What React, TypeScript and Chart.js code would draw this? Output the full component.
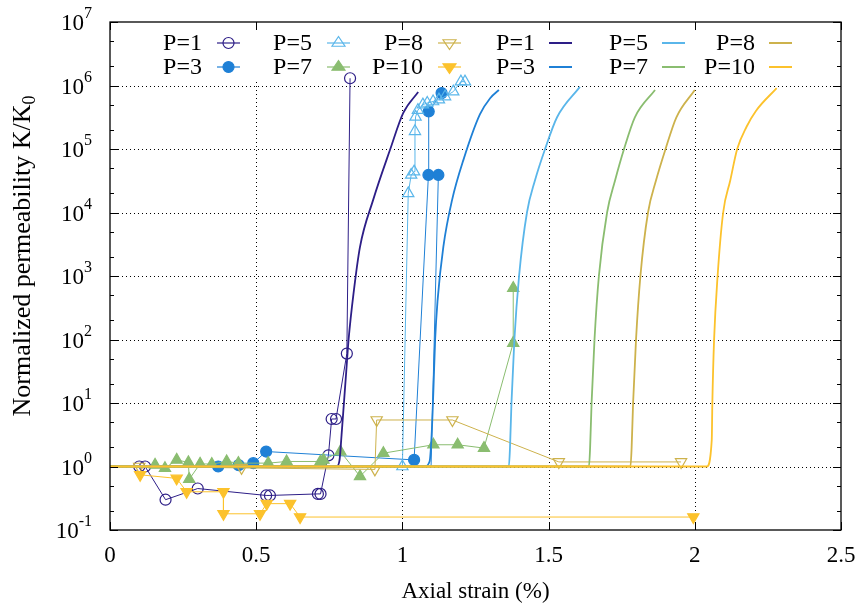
import React, { useEffect, useRef } from "react";
import { Chart, registerables } from "chart.js";

Chart.register(...registerables);

// ---- data (markers = measurements) ----
const P1_X = [0.10, 0.12, 0.19, 0.30, 0.534, 0.547, 0.711, 0.72, 0.747, 0.758, 0.773, 0.81, 0.821];
const P1_Y = [1.0, 1.0, 0.30, 0.45, 0.35, 0.35, 0.37, 0.37, 1.5, 5.6, 5.6, 60, 1.3e6];

// null = break in the measured line; P3_NOMARK = indices drawn without a marker
const P3_X = [0.37, 0.44, 0.49, 0.534, 1.04, 1.089, 1.09, 1.134, 1.12, 1.098, 1.123];
const P3_Y: (number | null)[] = [1.0, 1.05, 1.13, 1.72, 1.27, 3.9e4, 3.9e5, 7.6e5, null, 1.0, 3.9e4];
const P3_NOMARK = [9];

const P5_X = [1.0, 1.02, 1.03, 1.04, 1.043, 1.045, 1.053, 1.07, 1.085, 1.105, 1.125, 1.146, 1.174, 1.2, 1.214];
const P5_Y = [1.0, 2.0e4, 3.9e4, 4.4e4, 1.9e5, 3.2e5, 4.1e5, 5.0e5, 5.3e5, 5.6e5, 6.0e5, 6.7e5, 8.0e5, 1.15e6, 1.15e6];

const P7_X = [0.154, 0.188, 0.228, 0.268, 0.271, 0.308, 0.348, 0.399, 0.439, 0.541, 0.604, 0.72, 0.73, 0.788, 0.855, 0.935, 1.106, 1.189, 1.279, 1.379, 1.379];
const P7_Y = [1.06, 0.94, 1.27, 1.16, 0.63, 1.1, 1.09, 1.2, 1.13, 1.13, 1.2, 1.2, 1.27, 1.72, 0.7, 1.62, 2.2, 2.2, 1.95, 88, 645];

const P8_X = [0.10, 0.45, 0.906, 0.912, 1.171, 1.535, 1.953];
const P8_Y = [1.0, 0.95, 0.9, 5.4, 5.4, 1.18, 1.18];

const P10_X = [0.103, 0.228, 0.262, 0.388, 0.388, 0.513, 0.536, 0.616, 0.65, 1.995];
const P10_Y = [0.74, 0.65, 0.40, 0.40, 0.18, 0.18, 0.26, 0.26, 0.16, 0.16];

// ---- model curves ----
const M1_X = [0, 0.775, 0.785, 0.792, 0.8, 0.808, 0.816, 0.833, 0.855, 0.9, 0.958, 1.003, 1.054];
const M1_Y = [1, 1, 1.26, 3.16, 10, 31.6, 100, 537, 2880, 1.58e4, 9.8e4, 3.7e5, 7.9e5];

const M3_X = [0, 1.075, 1.093, 1.1, 1.106, 1.112, 1.12, 1.14, 1.17, 1.209, 1.265, 1.3, 1.33];
const M3_Y = [1, 1, 1.2, 3.16, 15.8, 100, 398, 2880, 1.58e4, 6.8e4, 3.5e5, 6.3e5, 8.5e5];

const M5_X = [0, 1.364, 1.368, 1.373, 1.383, 1.399, 1.426, 1.453, 1.488, 1.529, 1.607];
const M5_Y = [1, 1, 2, 10, 100, 1000, 1e4, 3.16e4, 1e5, 3.16e5, 9.5e5];

const M7_X = [0, 1.638, 1.642, 1.647, 1.657, 1.672, 1.7, 1.727, 1.758, 1.795, 1.864];
const M7_Y = [1, 1, 2, 10, 100, 1000, 1e4, 3.16e4, 1e5, 3.16e5, 8.5e5];

const M8_X = [0, 1.78, 1.784, 1.789, 1.799, 1.814, 1.84, 1.867, 1.9, 1.937, 2.0];
const M8_Y = [1, 1, 2, 10, 100, 1000, 1e4, 3.16e4, 1e5, 3.16e5, 8.5e5];

const M10_X = [0, 2.041, 2.058, 2.06, 2.066, 2.078, 2.097, 2.121, 2.145, 2.177, 2.209, 2.28];
const M10_Y = [1, 1, 2.63, 10, 100, 1000, 1e4, 3.16e4, 1e5, 2.24e5, 3.98e5, 9.1e5];

const X_TICKS = [0, 0.5, 1, 1.5, 2, 2.5];
const X_TICK_LABELS = ["0", "0.5", "1", "1.5", "2", "2.5"];
const Y_EXPONENTS = [-1, 0, 1, 2, 3, 4, 5, 6, 7];
const X_TITLE = "Axial strain (%)";
const Y_TITLE = "Normalized permeability K/K";
const Y_TITLE_SUB = "0";

const C1 = "#2d1e87";
const C3 = "#1f80d6";
const C5 = "#5ab6ea";
const C7 = "#8abd70";
const C8 = "#cdb24c";
const C10 = "#fcc22c";

const FONT = '"Liberation Serif", "DejaVu Serif", serif';

type Mk = { label: string; xs: number[]; ys: (number | null)[]; color: string; style: string; filled: boolean; rot: number; nomark?: number[] };
const MARKERS: Mk[] = [
  { label: "P=1", xs: P1_X, ys: P1_Y, color: C1, style: "circle", filled: false, rot: 0 },
  { label: "P=3", xs: P3_X, ys: P3_Y, color: C3, style: "circle", filled: true, rot: 0, nomark: P3_NOMARK },
  { label: "P=5", xs: P5_X, ys: P5_Y, color: C5, style: "triangle", filled: false, rot: 0 },
  { label: "P=7", xs: P7_X, ys: P7_Y, color: C7, style: "triangle", filled: true, rot: 0 },
  { label: "P=8", xs: P8_X, ys: P8_Y, color: C8, style: "triangle", filled: false, rot: 180 },
  { label: "P=10", xs: P10_X, ys: P10_Y, color: C10, style: "triangle", filled: true, rot: 180 },
];
const MODELS = [
  { label: "P=1", xs: M1_X, ys: M1_Y, color: C1 },
  { label: "P=3", xs: M3_X, ys: M3_Y, color: C3 },
  { label: "P=5", xs: M5_X, ys: M5_Y, color: C5 },
  { label: "P=7", xs: M7_X, ys: M7_Y, color: C7 },
  { label: "P=8", xs: M8_X, ys: M8_Y, color: C8 },
  { label: "P=10", xs: M10_X, ys: M10_Y, color: C10 },
];

function drawMarker(ctx: CanvasRenderingContext2D, m: Mk, cx: number, cy: number) {
  ctx.save();
  ctx.strokeStyle = m.color;
  ctx.fillStyle = m.color;
  ctx.lineWidth = 1.2;
  const r = m.style === "circle" ? 5.5 : 6.5;
  ctx.beginPath();
  if (m.style === "circle") {
    ctx.arc(cx, cy, r, 0, Math.PI * 2);
  } else {
    const s = m.rot ? -1 : 1;
    const h = r * 1.5;
    ctx.moveTo(cx, cy - s * (h * 2) / 3);
    ctx.lineTo(cx + r, cy + s * h / 3);
    ctx.lineTo(cx - r, cy + s * h / 3);
    ctx.closePath();
  }
  if (m.filled) ctx.fill();
  ctx.stroke();
  ctx.restore();
}

const framePlugin = {
  id: "frame",
  beforeDatasetsDraw(chart: any) {
    const { ctx, chartArea, scales } = chart;
    const { left, right, top, bottom } = chartArea;
    const x = scales.x, y = scales.y;
    ctx.save();
    ctx.strokeStyle = "#000";
    ctx.lineWidth = 1;
    ctx.setLineDash([1, 3]);
    for (const v of X_TICKS) {
      if (v <= 0 || v >= 2.5) continue;
      const px = Math.round(x.getPixelForValue(v)) + 0.5;
      ctx.beginPath(); ctx.moveTo(px, top); ctx.lineTo(px, bottom); ctx.stroke();
    }
    for (const e of Y_EXPONENTS) {
      if (e <= -1 || e >= 7) continue;
      const py = Math.round(y.getPixelForValue(Math.pow(10, e))) + 0.5;
      ctx.beginPath(); ctx.moveTo(left, py); ctx.lineTo(right, py); ctx.stroke();
    }
    ctx.setLineDash([]);
    // key background
    ctx.fillStyle = "#fff";
    ctx.fillRect(left + 30, top + 1, right - left - 40, 56);
    ctx.restore();
  },
  afterDatasetsDraw(chart: any) {
    const { ctx, chartArea, scales } = chart;
    const { left, right, top, bottom } = chartArea;
    const x = scales.x, y = scales.y;
    ctx.save();
    // border
    ctx.strokeStyle = "#000";
    ctx.lineWidth = 1.3;
    ctx.strokeRect(left, top, right - left, bottom - top);
    ctx.lineWidth = 1;
    // x ticks
    for (const v of X_TICKS) {
      const px = Math.round(x.getPixelForValue(v)) + 0.5;
      ctx.beginPath();
      ctx.moveTo(px, bottom); ctx.lineTo(px, bottom - 8);
      ctx.moveTo(px, top); ctx.lineTo(px, top + 8);
      ctx.stroke();
    }
    // y ticks
    for (const e of Y_EXPONENTS) {
      const py = Math.round(y.getPixelForValue(Math.pow(10, e))) + 0.5;
      ctx.beginPath();
      ctx.moveTo(left, py); ctx.lineTo(left + 8, py);
      ctx.moveTo(right, py); ctx.lineTo(right - 8, py);
      ctx.stroke();
      if (e < 7) {
        for (const m of [2, 5]) {
          const pm = Math.round(y.getPixelForValue(m * Math.pow(10, e))) + 0.5;
          ctx.beginPath();
          ctx.moveTo(left, pm); ctx.lineTo(left + 4, pm);
          ctx.moveTo(right, pm); ctx.lineTo(right - 4, pm);
          ctx.stroke();
        }
      }
    }
    // x tick labels
    ctx.fillStyle = "#000";
    ctx.font = `23px ${FONT}`;
    ctx.textAlign = "center";
    ctx.textBaseline = "middle";
    X_TICKS.forEach((v, i) => {
      ctx.fillText(X_TICK_LABELS[i], x.getPixelForValue(v), bottom + 26);
    });
    ctx.fillText(X_TITLE, (left + right) / 2, bottom + 62);
    // y tick labels with superscript
    for (const e of Y_EXPONENTS) {
      const py = y.getPixelForValue(Math.pow(10, e));
      const exp = String(e);
      ctx.font = `16px ${FONT}`;
      const ew = ctx.measureText(exp).width;
      ctx.textAlign = "left";
      const rightEdge = left - 18;
      ctx.fillText(exp, rightEdge - ew, py - 8);
      ctx.font = `23px ${FONT}`;
      ctx.textAlign = "right";
      ctx.fillText("10", rightEdge - ew, py + 2);
    }
    // y title
    ctx.save();
    ctx.translate(23, 256);
    ctx.rotate(-Math.PI / 2);
    ctx.font = `26px ${FONT}`;
    const tw = ctx.measureText(Y_TITLE).width;
    ctx.font = `18px ${FONT}`;
    const sw = ctx.measureText(Y_TITLE_SUB).width;
    const start = -(tw + sw) / 2;
    ctx.textAlign = "left";
    ctx.font = `26px ${FONT}`;
    ctx.fillText(Y_TITLE, start, 0);
    ctx.font = `18px ${FONT}`;
    ctx.fillText(Y_TITLE_SUB, start + tw, 7);
    ctx.restore();

    // key
    const colRight = [202, 312, 423, 535, 648, 755];
    const rowY = [43, 67];
    ctx.textBaseline = "middle";
    MARKERS.forEach((m, i) => {
      const col = Math.floor(i / 2), row = i % 2;
      const tx = colRight[col], ty = rowY[row];
      ctx.fillStyle = "#000";
      ctx.font = `24px ${FONT}`;
      ctx.textAlign = "right";
      ctx.fillText(m.label, tx, ty + 1);
      ctx.strokeStyle = m.color;
      ctx.lineWidth = 1.2;
      ctx.beginPath(); ctx.moveTo(tx + 15, ty); ctx.lineTo(tx + 38, ty); ctx.stroke();
      drawMarker(ctx, m, tx + 26.5, ty);
    });
    MODELS.forEach((m, i) => {
      const col = 3 + Math.floor(i / 2), row = i % 2;
      const tx = colRight[col], ty = rowY[row];
      ctx.fillStyle = "#000";
      ctx.font = `24px ${FONT}`;
      ctx.textAlign = "right";
      ctx.fillText(m.label, tx, ty + 1);
      ctx.strokeStyle = m.color;
      ctx.lineWidth = 2;
      ctx.beginPath(); ctx.moveTo(tx + 14, ty); ctx.lineTo(tx + 37, ty); ctx.stroke();
    });
    ctx.restore();
  },
};

export default function App() {
  const ref = useRef<HTMLCanvasElement | null>(null);
  useEffect(() => {
    if (!ref.current) return;
    const datasets: any[] = [];
    const total = MARKERS.length + MODELS.length;
    MARKERS.forEach((m, i) => {
      const r = m.style === "circle" ? 5.5 : 6.5;
      const nomark = m.nomark || [];
      datasets.push({
        label: m.label,
        data: m.xs.map((v, k) => ({ x: v, y: m.ys[k] })),
        showLine: true,
        spanGaps: false,
        borderColor: m.color,
        borderWidth: 1,
        backgroundColor: m.filled ? m.color : "rgba(0,0,0,0)",
        pointBorderColor: m.color,
        pointBackgroundColor: m.filled ? m.color : "rgba(0,0,0,0)",
        pointStyle: m.style,
        pointRotation: m.rot,
        pointRadius: m.xs.map((_, k) => (nomark.includes(k) ? 0 : r)),
        pointBorderWidth: 1.2,
        order: total - i,
      });
    });
    MODELS.forEach((m, i) => {
      datasets.push({
        label: m.label + " model",
        data: m.xs.map((v, k) => ({ x: v, y: m.ys[k] })),
        showLine: true,
        borderColor: m.color,
        borderWidth: 1.8,
        pointRadius: 0,
        cubicInterpolationMode: "monotone",
        order: total - MARKERS.length - i,
      });
    });
    const chart = new Chart(ref.current, {
      type: "scatter",
      data: { datasets },
      options: {
        animation: false,
        responsive: false,
        maintainAspectRatio: false,
        layout: { padding: { left: 110, right: 20, top: 22, bottom: 80 } },
        plugins: { legend: { display: false }, tooltip: { enabled: false } },
        scales: {
          x: { type: "linear", min: 0, max: 2.5, display: false },
          y: { type: "logarithmic", min: 0.1, max: 1e7, display: false },
        },
      },
      plugins: [framePlugin],
    } as any);
    return () => chart.destroy();
  }, []);
  return (
    <div style={{ position: "absolute", left: 0, top: 0, width: 861, height: 610, background: "#fff" }}>
      <canvas ref={ref} width={861} height={610} style={{ width: 861, height: 610 }} />
    </div>
  );
}
